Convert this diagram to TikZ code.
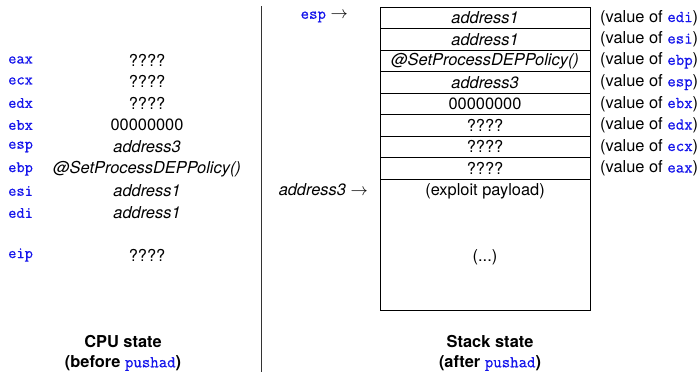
\documentclass[tikz,border=0pt]{standalone}
\usepackage{fontspec}
\setmainfont{TeX Gyre Heros}
\newfontfamily\regfont{Latin Modern Mono}[FakeBold=0.7]
\definecolor{regblue}{RGB}{20,20,235}
\newcommand{\reg}[1]{{\regfont\color{regblue}#1}}
\begin{document}
\begin{tikzpicture}[x=1pt,y=-1pt,
  every node/.style={font=\fontsize{16.4}{19}\selectfont, inner sep=0pt},
  regname/.style={anchor=west, font=\fontsize{16}{19}\selectfont\regfont, text=regblue},
  regval/.style={anchor=center},
  cell/.style={draw, line width=0.8pt, minimum width=210pt, minimum height=21.5pt},
  note/.style={anchor=west},
  caption/.style={align=center, font=\fontsize{16.4}{20}\selectfont\bfseries}]
\useasboundingbox (0,0) rectangle (700,372);

% divider between the two halves
\draw[line width=0.8pt, black!80] (261,6) -- (261,372);

% CPU registers before pushad
\foreach \r/\v/\y [count=\i] in {eax/????/60, ecx/????/81, edx/????/103, ebx/00000000/125,
    esp/\textit{address3}/147, ebp/\textit{@SetProcessDEPPolicy()}/169,
    esi/\textit{address1}/191, edi/\textit{address1}/213, eip/????/255} {
  \node[regname] (r\i) at (8,\y) {\r};
  \node[regval]  (v\i) at (147,\y) {\v};
}

% stack after pushad
\foreach \v/\r [count=\i] in {\textit{address1}/edi, \textit{address1}/esi,
    \textit{@SetProcessDEPPolicy()}/ebp, \textit{address3}/esp, 00000000/ebx,
    ????/edx, ????/ecx, ????/eax} {
  \node[cell] (s\i) at (485,{7+21.5*(\i-0.5)}) {\v};
  \node[note] (n\i) at (600,{7+21.5*(\i-0.5)}) {(value of \reg{\r})};
}
\node[draw, line width=0.8pt, minimum width=210pt, minimum height=131pt] (payload) at (485,244.5) {};
\node (exploit) at (485,191) {(exploit payload)};
\node (dots) at (485,257) {(...)};

% pointers into the stack
\node[anchor=east] (espptr) at (348,17) {\reg{esp} $\rightarrow$};
\node[anchor=east] (addrptr) at (368,190) {\textit{address3} $\rightarrow$};

% captions
\node[caption] (cpu) at (123,353) {CPU state\\(before \reg{pushad})};
\node[caption] (stk) at (490,353) {Stack state\\(after \reg{pushad})};
\end{tikzpicture}
\end{document}
